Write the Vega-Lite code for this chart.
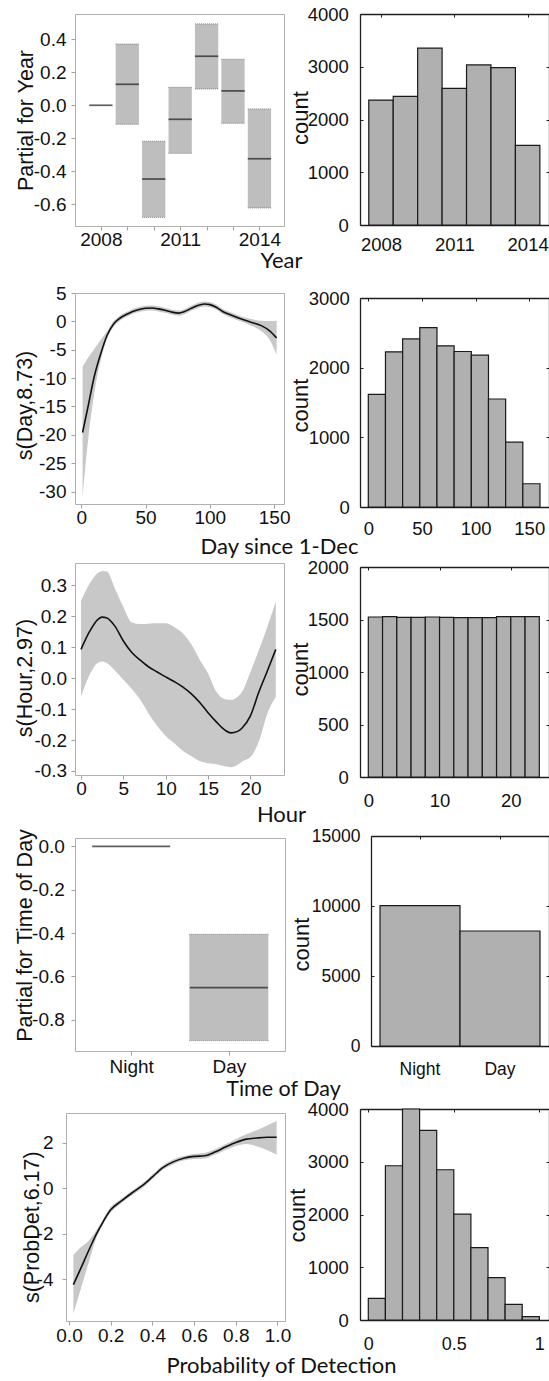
{
"$schema": "https://vega.github.io/schema/vega-lite/v6.json",
"background": "white",
"padding": {"left": 14, "top": 5, "right": 0, "bottom": 0},
"columns": 2,
"spacing": {"row": 63, "column": 75},
"align": "each",
"bounds": "flush",
"datasets": {
"yr": [
{"year": 2008, "est": 0},
{"year": 2009, "est": 0.127, "lo": -0.115, "hi": 0.371},
{"year": 2010, "est": -0.447, "lo": -0.679, "hi": -0.218},
{"year": 2011, "est": -0.085, "lo": -0.291, "hi": 0.109},
{"year": 2012, "est": 0.297, "lo": 0.099, "hi": 0.493},
{"year": 2013, "est": 0.087, "lo": -0.109, "hi": 0.279},
{"year": 2014, "est": -0.324, "lo": -0.622, "hi": -0.022}
],
"yrh": [
{"x0": 2007.5, "x1": 2008.5, "n": 2368},
{"x0": 2008.5, "x1": 2009.5, "n": 2438},
{"x0": 2009.5, "x1": 2010.5, "n": 3352},
{"x0": 2010.5, "x1": 2011.5, "n": 2590},
{"x0": 2011.5, "x1": 2012.5, "n": 3035},
{"x0": 2012.5, "x1": 2013.5, "n": 2984},
{"x0": 2013.5, "x1": 2014.5, "n": 1511}
],
"day": [
{"d": 1, "fit": -19.6, "lo": -30.9, "hi": -8.0},
{"d": 5, "fit": -15.3, "lo": -21.5, "hi": -6.5},
{"d": 10, "fit": -9.8, "lo": -12.8, "hi": -4.9},
{"d": 15, "fit": -5.8, "lo": -7.0, "hi": -3.3},
{"d": 20, "fit": -2.5, "lo": -3.1, "hi": -1.8},
{"d": 25, "fit": -0.5, "lo": -1.0, "hi": 0.0},
{"d": 30, "fit": 0.55, "lo": 0.1, "hi": 1.0},
{"d": 35, "fit": 1.2, "lo": 0.75, "hi": 1.65},
{"d": 40, "fit": 1.75, "lo": 1.3, "hi": 2.2},
{"d": 45, "fit": 2.1, "lo": 1.65, "hi": 2.55},
{"d": 50, "fit": 2.3, "lo": 1.85, "hi": 2.75},
{"d": 55, "fit": 2.35, "lo": 1.9, "hi": 2.8},
{"d": 60, "fit": 2.2, "lo": 1.75, "hi": 2.65},
{"d": 65, "fit": 1.95, "lo": 1.5, "hi": 2.4},
{"d": 70, "fit": 1.65, "lo": 1.2, "hi": 2.1},
{"d": 76, "fit": 1.45, "lo": 1.0, "hi": 1.9},
{"d": 80, "fit": 1.7, "lo": 1.25, "hi": 2.15},
{"d": 86, "fit": 2.35, "lo": 1.9, "hi": 2.8},
{"d": 92, "fit": 2.9, "lo": 2.45, "hi": 3.35},
{"d": 96, "fit": 3.05, "lo": 2.6, "hi": 3.5},
{"d": 100, "fit": 2.95, "lo": 2.5, "hi": 3.4},
{"d": 105, "fit": 2.5, "lo": 2.05, "hi": 2.95},
{"d": 110, "fit": 1.75, "lo": 1.3, "hi": 2.2},
{"d": 116, "fit": 1.15, "lo": 0.7, "hi": 1.6},
{"d": 124, "fit": 0.45, "lo": 0.0, "hi": 0.9},
{"d": 132, "fit": -0.15, "lo": -0.75, "hi": 0.4},
{"d": 140, "fit": -0.75, "lo": -1.7, "hi": 0.1},
{"d": 147, "fit": -1.75, "lo": -3.4, "hi": 0.05},
{"d": 152, "fit": -2.95, "lo": -5.9, "hi": 0.1}
],
"dayh": [
{"x0": 0, "x1": 16, "n": 1617},
{"x0": 16, "x1": 32, "n": 2227},
{"x0": 32, "x1": 48, "n": 2413},
{"x0": 48, "x1": 64, "n": 2575},
{"x0": 64, "x1": 80, "n": 2313},
{"x0": 80, "x1": 96, "n": 2232},
{"x0": 96, "x1": 112, "n": 2180},
{"x0": 112, "x1": 128, "n": 1550},
{"x0": 128, "x1": 144, "n": 930},
{"x0": 144, "x1": 160, "n": 334}
],
"hour": [
{"h": 0, "fit": 0.093, "lo": -0.06, "hi": 0.25},
{"h": 1, "fit": 0.15, "lo": 0.01, "hi": 0.305},
{"h": 2, "fit": 0.19, "lo": 0.05, "hi": 0.34},
{"h": 2.5, "fit": 0.197, "lo": 0.054, "hi": 0.345},
{"h": 3, "fit": 0.195, "lo": 0.05, "hi": 0.345},
{"h": 4, "fit": 0.168, "lo": 0.025, "hi": 0.29},
{"h": 5, "fit": 0.12, "lo": -0.005, "hi": 0.23},
{"h": 6, "fit": 0.083, "lo": -0.035, "hi": 0.18},
{"h": 7, "fit": 0.058, "lo": -0.07, "hi": 0.175},
{"h": 8, "fit": 0.036, "lo": -0.115, "hi": 0.176},
{"h": 9, "fit": 0.02, "lo": -0.155, "hi": 0.177},
{"h": 10, "fit": 0.004, "lo": -0.187, "hi": 0.177},
{"h": 11, "fit": -0.011, "lo": -0.21, "hi": 0.165},
{"h": 12, "fit": -0.028, "lo": -0.235, "hi": 0.145},
{"h": 13, "fit": -0.05, "lo": -0.252, "hi": 0.11},
{"h": 14, "fit": -0.078, "lo": -0.268, "hi": 0.06},
{"h": 15, "fit": -0.112, "lo": -0.275, "hi": 0.015},
{"h": 16, "fit": -0.142, "lo": -0.278, "hi": -0.045},
{"h": 17, "fit": -0.168, "lo": -0.285, "hi": -0.068},
{"h": 17.7, "fit": -0.177, "lo": -0.288, "hi": -0.07},
{"h": 18.5, "fit": -0.172, "lo": -0.28, "hi": -0.06},
{"h": 19, "fit": -0.162, "lo": -0.27, "hi": -0.045},
{"h": 20, "fit": -0.122, "lo": -0.255, "hi": 0.02},
{"h": 21, "fit": -0.045, "lo": -0.205, "hi": 0.09},
{"h": 22, "fit": 0.023, "lo": -0.115, "hi": 0.165},
{"h": 23, "fit": 0.093, "lo": -0.06, "hi": 0.248}
],
"hourh": [
{"x0": 0, "x1": 2, "n": 1524},
{"x0": 2, "x1": 4, "n": 1527},
{"x0": 4, "x1": 6, "n": 1521},
{"x0": 6, "x1": 8, "n": 1521},
{"x0": 8, "x1": 10, "n": 1524},
{"x0": 10, "x1": 12, "n": 1521},
{"x0": 12, "x1": 14, "n": 1517},
{"x0": 14, "x1": 16, "n": 1517},
{"x0": 16, "x1": 18, "n": 1517},
{"x0": 18, "x1": 20, "n": 1527},
{"x0": 20, "x1": 22, "n": 1527},
{"x0": 22, "x1": 24, "n": 1527}
],
"tod": [
{"tod": "Night", "est": 0},
{"tod": "Day", "est": -0.652, "lo": -0.897, "hi": -0.406}
],
"todh": [
{"tod": "Night", "n": 10030},
{"tod": "Day", "n": 8214}
],
"pd": [
{"p": 0.021, "fit": -4.24, "lo": -5.51, "hi": -2.94},
{"p": 0.05, "fit": -3.66, "lo": -4.63, "hi": -2.65},
{"p": 0.1, "fit": -2.63, "lo": -3.1, "hi": -2.25},
{"p": 0.133, "fit": -1.99, "lo": -2.15, "hi": -1.82},
{"p": 0.15, "fit": -1.7, "lo": -1.83, "hi": -1.57},
{"p": 0.2, "fit": -0.95, "lo": -1.07, "hi": -0.83},
{"p": 0.25, "fit": -0.57, "lo": -0.67, "hi": -0.47},
{"p": 0.3, "fit": -0.22, "lo": -0.32, "hi": -0.12},
{"p": 0.35, "fit": 0.1, "lo": 0.0, "hi": 0.2},
{"p": 0.4, "fit": 0.5, "lo": 0.4, "hi": 0.6},
{"p": 0.45, "fit": 0.91, "lo": 0.81, "hi": 1.01},
{"p": 0.5, "fit": 1.16, "lo": 1.06, "hi": 1.26},
{"p": 0.55, "fit": 1.32, "lo": 1.22, "hi": 1.42},
{"p": 0.6, "fit": 1.4, "lo": 1.29, "hi": 1.51},
{"p": 0.65, "fit": 1.43, "lo": 1.31, "hi": 1.55},
{"p": 0.7, "fit": 1.59, "lo": 1.47, "hi": 1.71},
{"p": 0.75, "fit": 1.81, "lo": 1.68, "hi": 1.94},
{"p": 0.8, "fit": 2.01, "lo": 1.86, "hi": 2.16},
{"p": 0.85, "fit": 2.16, "lo": 1.95, "hi": 2.37},
{"p": 0.9, "fit": 2.21, "lo": 1.85, "hi": 2.55},
{"p": 0.95, "fit": 2.24, "lo": 1.68, "hi": 2.76},
{"p": 0.996, "fit": 2.24, "lo": 1.47, "hi": 2.96}
],
"pdh": [
{"x0": 0.0, "x1": 0.1, "n": 411},
{"x0": 0.1, "x1": 0.2, "n": 2924},
{"x0": 0.2, "x1": 0.3, "n": 4000},
{"x0": 0.3, "x1": 0.4, "n": 3595},
{"x0": 0.4, "x1": 0.5, "n": 2848},
{"x0": 0.5, "x1": 0.6, "n": 2006},
{"x0": 0.6, "x1": 0.7, "n": 1373},
{"x0": 0.7, "x1": 0.8, "n": 804},
{"x0": 0.8, "x1": 0.9, "n": 297},
{"x0": 0.9, "x1": 1.0, "n": 63}
]
},
"concat": [
{
"width": 218, "height": 216,
"data": {"name": "yr"},
"layer": [
{"mark": {"type": "bar", "width": 23.3, "fill": "#bebebe"},
 "encoding": {
  "x": {"field": "year", "type": "quantitative", "scale": {"domain": [2007.21, 2014.74], "range": [9, 218], "nice": false, "zero": false},
   "axis": {"orient": "bottom", "values": [2008, 2009, 2010, 2011, 2012, 2013, 2014], "labelExpr": "(datum.value-2008)%3==0 ? format(datum.value,'d') : ''", "domainColor": "#b0b0b0", "tickColor": "#a0a0a0", "tickSize": 4, "labelFontSize": 19, "labelPadding": 0, "title": "Year", "titleFont": "Lato", "titleFontSize": 22, "titleX": 215, "titleY": 41, "offset": -4}},
  "y": {"field": "lo", "type": "quantitative", "scale": {"domain": [-0.7315, 0.553], "range": [212, 0], "nice": false, "zero": false},
   "axis": {"orient": "left", "values": [-0.6, -0.4, -0.2, 0, 0.2, 0.4], "format": ".1f", "labelExpr": "replace(datum.label,'−','-')", "domainColor": "#b0b0b0", "tickColor": "#a0a0a0", "tickSize": 4, "labelFontSize": 19, "labelPadding": 5, "title": "Partial for Year", "titleFontSize": 21.5, "titleX": -42.3, "titleY": 106, "offset": -9}},
  "y2": {"field": "hi"}}},
{"mark": {"type": "point", "shape": "M-1,0H1", "size": 543, "stroke": "#808080", "strokeWidth": 1, "strokeDash": [1, 1], "opacity": 1},
 "encoding": {"x": {"field": "year", "type": "quantitative", "axis": null}, "y": {"field": "lo", "type": "quantitative", "axis": null}}},
{"mark": {"type": "point", "shape": "M-1,0H1", "size": 543, "stroke": "#808080", "strokeWidth": 1, "strokeDash": [1, 1], "opacity": 1},
 "encoding": {"x": {"field": "year", "type": "quantitative", "axis": null}, "y": {"field": "hi", "type": "quantitative", "axis": null}}},
{"mark": {"type": "tick", "orient": "horizontal", "size": 23.3, "thickness": 1.7, "color": "#1a1a1a"},
 "encoding": {
  "x": {"field": "year", "type": "quantitative", "axis": {"orient": "top", "domainColor": "#b0b0b0", "ticks": false, "labels": false, "title": null}},
  "y": {"field": "est", "type": "quantitative", "axis": {"orient": "right", "domainColor": "#b0b0b0", "ticks": false, "labels": false, "title": null}}}}
],
"resolve": {"axis": {"x": "independent", "y": "independent"}}
},
{
"width": 189, "height": 216,
"data": {"name": "yrh"},
"layer": [
{"mark": {"type": "rect", "fill": "#b0b0b0", "stroke": "#1a1a1a", "strokeWidth": 1.2},
 "encoding": {
  "x": {"field": "x0", "type": "quantitative", "scale": {"domain": [2007.141, 2014.874], "range": [0, 189], "nice": false, "zero": false},
   "axis": {"orient": "bottom", "values": [2008, 2011, 2014], "format": "d", "domainColor": "#1f1f1f", "domainWidth": 1.3, "tickColor": "#1f1f1f", "tickSize": -3, "labelFontSize": 18.5, "labelPadding": 13.3, "title": null, "offset": -5}},
  "x2": {"field": "x1"},
  "y": {"field": "n", "type": "quantitative", "scale": {"domain": [0, 4000], "range": [211, 0], "nice": false},
   "axis": {"orient": "left", "values": [0, 1000, 2000, 3000, 4000], "format": "d", "domainColor": "#1f1f1f", "domainWidth": 1.3, "tickColor": "#1f1f1f", "tickSize": -3, "labelFontSize": 18.5, "labelPadding": 14.7, "title": "count", "titleFontSize": 22, "titleX": -53, "titleY": 103.5}},
  "y2": {"datum": 0}}},
{"mark": {"type": "point", "opacity": 0},
 "encoding": {
  "x": {"field": "x0", "type": "quantitative", "axis": {"orient": "top", "values": [2008, 2011, 2014], "domainColor": "#1f1f1f", "domainWidth": 1.3, "tickColor": "#1f1f1f", "tickSize": -3, "labels": false, "title": null, "offset": 0}},
  "y": {"field": "n", "type": "quantitative", "axis": {"orient": "right", "values": [0, 1000, 2000, 3000, 4000], "domainColor": "#1f1f1f", "domainWidth": 1.3, "tickColor": "#1f1f1f", "tickSize": -3, "labels": false, "title": null}}}}
],
"resolve": {"axis": {"x": "independent", "y": "independent"}}
},
{
"width": 218, "height": 207,
"data": {"name": "day"},
"layer": [
{"mark": {"type": "area", "color": "#c8c8c8", "interpolate": "monotone"},
 "encoding": {
  "x": {"field": "d", "type": "quantitative", "scale": {"domain": [-4.9, 157.7], "range": [9, 218], "nice": false, "zero": false},
   "axis": {"orient": "bottom", "values": [0, 50, 100, 150], "format": "d", "domainColor": "#b0b0b0", "tickColor": "#a0a0a0", "tickSize": 4, "labelFontSize": 19, "labelPadding": 0, "title": "Day since 1-Dec", "titleFont": "Lato", "titleFontSize": 22, "titleX": 213, "titleY": 49, "offset": 4}},
  "y": {"field": "lo", "type": "quantitative", "scale": {"domain": [-32.2, 5.0], "range": [211, 0], "nice": false, "zero": false},
   "axis": {"orient": "left", "values": [-30, -25, -20, -15, -10, -5, 0, 5], "format": "d", "labelExpr": "replace(datum.label,'−','-')", "domainColor": "#b0b0b0", "tickColor": "#a0a0a0", "tickSize": 4, "labelFontSize": 19, "labelPadding": 5, "title": "s(Day,8.73)", "titleFontSize": 21.5, "titleX": -43.5, "titleY": 112, "offset": -9}},
  "y2": {"field": "hi"}}},
{"mark": {"type": "line", "color": "#111111", "strokeWidth": 1.6, "interpolate": "monotone"},
 "encoding": {
  "x": {"field": "d", "type": "quantitative", "axis": {"orient": "top", "domainColor": "#b0b0b0", "ticks": false, "labels": false, "title": null}},
  "y": {"field": "fit", "type": "quantitative", "axis": {"orient": "right", "domainColor": "#b0b0b0", "ticks": false, "labels": false, "title": null}}}}
],
"resolve": {"axis": {"x": "independent", "y": "independent"}}
},
{
"width": 189, "height": 207,
"data": {"name": "dayh"},
"layer": [
{"mark": {"type": "rect", "fill": "#b0b0b0", "stroke": "#1a1a1a", "strokeWidth": 1.2},
 "encoding": {
  "x": {"field": "x0", "type": "quantitative", "scale": {"domain": [-7.73, 168.4], "range": [0, 189], "nice": false, "zero": false},
   "axis": {"orient": "bottom", "values": [0, 50, 100, 150], "format": "d", "domainColor": "#1f1f1f", "domainWidth": 1.3, "tickColor": "#1f1f1f", "tickSize": -3, "labelFontSize": 18.5, "labelPadding": 15, "title": null, "offset": 7}},
  "x2": {"field": "x1"},
  "y": {"field": "n", "type": "quantitative", "scale": {"domain": [0, 3000], "range": [214, 5], "nice": false},
   "axis": {"orient": "left", "values": [0, 1000, 2000, 3000], "format": "d", "domainColor": "#1f1f1f", "domainWidth": 1.3, "tickColor": "#1f1f1f", "tickSize": -3, "labelFontSize": 18.5, "labelPadding": 13.7, "title": "count", "titleFontSize": 22, "titleX": -53, "titleY": 112}},
  "y2": {"datum": 0}}},
{"mark": {"type": "point", "opacity": 0},
 "encoding": {
  "x": {"field": "x0", "type": "quantitative", "axis": {"orient": "top", "values": [0, 50, 100, 150], "domainColor": "#1f1f1f", "domainWidth": 1.3, "tickColor": "#1f1f1f", "tickSize": -3, "labels": false, "title": null, "offset": -5}},
  "y": {"field": "n", "type": "quantitative", "axis": {"orient": "right", "values": [0, 1000, 2000, 3000], "domainColor": "#1f1f1f", "domainWidth": 1.3, "tickColor": "#1f1f1f", "tickSize": -3, "labels": false, "title": null}}}}
],
"resolve": {"axis": {"x": "independent", "y": "independent"}}
},
{
"width": 218, "height": 212,
"data": {"name": "hour"},
"layer": [
{"mark": {"type": "area", "color": "#c8c8c8", "interpolate": "monotone"},
 "encoding": {
  "x": {"field": "h", "type": "quantitative", "scale": {"domain": [-0.71, 23.97], "range": [9, 218], "nice": false, "zero": false},
   "axis": {"orient": "bottom", "values": [0, 5, 10, 15, 20], "format": "d", "domainColor": "#b0b0b0", "tickColor": "#a0a0a0", "tickSize": 4, "labelFontSize": 19, "labelPadding": 0, "title": "Hour", "titleFont": "Lato", "titleFontSize": 22, "titleX": 215, "titleY": 46, "offset": 0}},
  "y": {"field": "lo", "type": "quantitative", "scale": {"domain": [-0.313, 0.372], "range": [212, 0], "nice": false, "zero": false},
   "axis": {"orient": "left", "values": [-0.3, -0.2, -0.1, 0, 0.1, 0.2, 0.3], "format": ".1f", "labelExpr": "replace(datum.label,'−','-')", "domainColor": "#b0b0b0", "tickColor": "#a0a0a0", "tickSize": 4, "labelFontSize": 19, "labelPadding": 4.3, "title": "s(Hour,2.97)", "titleFontSize": 21.5, "titleX": -43.5, "titleY": 114.5, "offset": -9}},
  "y2": {"field": "hi"}}},
{"mark": {"type": "line", "color": "#111111", "strokeWidth": 1.6, "interpolate": "monotone"},
 "encoding": {
  "x": {"field": "h", "type": "quantitative", "axis": {"orient": "top", "domainColor": "#b0b0b0", "ticks": false, "labels": false, "title": null}},
  "y": {"field": "fit", "type": "quantitative", "axis": {"orient": "right", "domainColor": "#b0b0b0", "ticks": false, "labels": false, "title": null}}}}
],
"resolve": {"axis": {"x": "independent", "y": "independent"}}
},
{
"width": 189, "height": 212,
"data": {"name": "hourh"},
"layer": [
{"mark": {"type": "rect", "fill": "#b0b0b0", "stroke": "#1a1a1a", "strokeWidth": 1.2},
 "encoding": {
  "x": {"field": "x0", "type": "quantitative", "scale": {"domain": [-1.165, 25.36], "range": [0, 189], "nice": false, "zero": false},
   "axis": {"orient": "bottom", "values": [0, 10, 20], "format": "d", "domainColor": "#1f1f1f", "domainWidth": 1.3, "tickColor": "#1f1f1f", "tickSize": -3, "labelFontSize": 18.5, "labelPadding": 17.6, "title": null, "offset": 2}},
  "x2": {"field": "x1"},
  "y": {"field": "n", "type": "quantitative", "scale": {"domain": [0, 2000], "range": [214, 4], "nice": false},
   "axis": {"orient": "left", "values": [0, 500, 1000, 1500, 2000], "format": "d", "domainColor": "#1f1f1f", "domainWidth": 1.3, "tickColor": "#1f1f1f", "tickSize": -3, "labelFontSize": 18.5, "labelPadding": 14.7, "title": "count", "titleFontSize": 22, "titleX": -53, "titleY": 106}},
  "y2": {"datum": 0}}},
{"mark": {"type": "point", "opacity": 0},
 "encoding": {
  "x": {"field": "x0", "type": "quantitative", "axis": {"orient": "top", "values": [0, 10, 20], "domainColor": "#1f1f1f", "domainWidth": 1.3, "tickColor": "#1f1f1f", "tickSize": -3, "labels": false, "title": null, "offset": -4}},
  "y": {"field": "n", "type": "quantitative", "axis": {"orient": "right", "values": [0, 500, 1000, 1500, 2000], "domainColor": "#1f1f1f", "domainWidth": 1.3, "tickColor": "#1f1f1f", "tickSize": -3, "labels": false, "title": null}}}}
],
"resolve": {"axis": {"x": "independent", "y": "independent"}}
},
{
"width": 219, "height": 212,
"data": {"name": "tod"},
"layer": [
{"mark": {"type": "bar", "width": 79, "fill": "#bebebe"},
 "encoding": {
  "x": {"field": "tod", "type": "nominal", "sort": ["Night", "Day"], "scale": {"type": "point", "padding": 0.575, "range": [9, 219]},
   "axis": {"orient": "bottom", "labelAngle": 0, "domainColor": "#b0b0b0", "tickColor": "#a0a0a0", "tickSize": 4, "labelFontSize": 19, "labelPadding": 2.5, "title": "Time of Day", "titleFont": "Lato", "titleFontSize": 21.5, "titleX": 217, "titleY": 44.5, "offset": 1}},
  "y": {"field": "lo", "type": "quantitative", "scale": {"domain": [-0.945, 0.039], "range": [213, 0], "nice": false, "zero": false},
   "axis": {"orient": "left", "values": [-0.8, -0.6, -0.4, -0.2, 0], "format": ".1f", "labelExpr": "replace(datum.label,'−','-')", "domainColor": "#b0b0b0", "tickColor": "#a0a0a0", "tickSize": 4, "labelFontSize": 19, "labelPadding": 6.7, "title": "Partial for Time of Day", "titleFontSize": 21.5, "titleX": -43.3, "titleY": 97, "offset": -9}},
  "y2": {"field": "hi"}}},
{"mark": {"type": "point", "shape": "M-1,0H1", "size": 6241, "stroke": "#808080", "strokeWidth": 1, "strokeDash": [1, 1], "opacity": 1},
 "encoding": {"x": {"field": "tod", "type": "nominal", "sort": ["Night", "Day"], "axis": null}, "y": {"field": "lo", "type": "quantitative", "axis": null}}},
{"mark": {"type": "point", "shape": "M-1,0H1", "size": 6241, "stroke": "#808080", "strokeWidth": 1, "strokeDash": [1, 1], "opacity": 1},
 "encoding": {"x": {"field": "tod", "type": "nominal", "sort": ["Night", "Day"], "axis": null}, "y": {"field": "hi", "type": "quantitative", "axis": null}}},
{"mark": {"type": "tick", "orient": "horizontal", "size": 78, "thickness": 1.7, "color": "#1a1a1a"},
 "encoding": {
  "x": {"field": "tod", "type": "nominal", "sort": ["Night", "Day"], "axis": {"orient": "top", "domainColor": "#b0b0b0", "ticks": false, "labels": false, "title": null}},
  "y": {"field": "est", "type": "quantitative", "axis": {"orient": "right", "domainColor": "#b0b0b0", "ticks": false, "labels": false, "title": null}}}}
],
"resolve": {"axis": {"x": "independent", "y": "independent"}}
},
{
"width": 189, "height": 212,
"data": {"name": "todh"},
"layer": [
{"mark": {"type": "bar", "fill": "#b0b0b0", "stroke": "#1a1a1a", "strokeWidth": 1.2},
 "encoding": {
  "x": {"field": "tod", "type": "nominal", "sort": ["Night", "Day"], "scale": {"type": "band", "paddingInner": 0, "paddingOuter": 0.1125, "range": [11, 189]},
   "axis": {"orient": "bottom", "labelAngle": 0, "domainColor": "#1f1f1f", "domainWidth": 1.3, "tickColor": "#1f1f1f", "tickSize": -3, "labelFontSize": 17.5, "labelPadding": 17.3, "title": null, "offset": -4}},
  "y": {"field": "n", "type": "quantitative", "scale": {"domain": [0, 15000], "range": [208, -2], "nice": false},
   "axis": {"orient": "left", "values": [0, 5000, 10000, 15000], "format": "d", "domainColor": "#1f1f1f", "domainWidth": 1.3, "tickColor": "#1f1f1f", "tickSize": -3, "labelFontSize": 17.5, "labelPadding": 14, "title": "count", "titleFontSize": 22, "titleX": -63, "titleY": 106, "offset": -11}}}},
{"mark": {"type": "point", "opacity": 0},
 "encoding": {
  "x": {"field": "tod", "type": "nominal", "sort": ["Night", "Day"], "axis": {"orient": "top", "domainColor": "#1f1f1f", "domainWidth": 1.3, "tickColor": "#1f1f1f", "tickSize": -3, "labels": false, "title": null, "offset": 2}},
  "y": {"field": "n", "type": "quantitative", "axis": {"orient": "right", "values": [0, 5000, 10000, 15000], "domainColor": "#1f1f1f", "domainWidth": 1.3, "tickColor": "#1f1f1f", "tickSize": -3, "labels": false, "title": null}}}}
],
"resolve": {"axis": {"x": "independent", "y": "independent"}}
},
{
"width": 219, "height": 208,
"data": {"name": "pd"},
"layer": [
{"mark": {"type": "area", "color": "#c8c8c8", "interpolate": "monotone"},
 "encoding": {
  "x": {"field": "p", "type": "quantitative", "scale": {"domain": [-0.0144, 1.036], "range": [0, 219], "nice": false, "zero": false},
   "axis": {"orient": "bottom", "values": [0, 0.2, 0.4, 0.6, 0.8, 1], "format": ".1f", "domainColor": "#b0b0b0", "tickColor": "#a0a0a0", "tickSize": 4, "labelFontSize": 19, "labelPadding": 1, "title": "Probability of Detection", "titleFont": "Lato", "titleFontSize": 22, "titleX": 215, "titleY": 51.7, "offset": 0}},
  "y": {"field": "lo", "type": "quantitative", "scale": {"domain": [-5.84, 3.31], "range": [208, 0], "nice": false, "zero": false},
   "axis": {"orient": "left", "values": [-4, -2, 0, 2], "format": "d", "labelExpr": "replace(datum.label,'−','-')", "domainColor": "#b0b0b0", "tickColor": "#a0a0a0", "tickSize": 4, "labelFontSize": 19, "labelPadding": 9, "title": "s(ProbDet,6.17)", "titleFontSize": 21.5, "titleX": -28, "titleY": 113.7}},
  "y2": {"field": "hi"}}},
{"mark": {"type": "line", "color": "#111111", "strokeWidth": 1.6, "interpolate": "monotone"},
 "encoding": {
  "x": {"field": "p", "type": "quantitative", "axis": {"orient": "top", "domainColor": "#b0b0b0", "ticks": false, "labels": false, "title": null}},
  "y": {"field": "fit", "type": "quantitative", "axis": {"orient": "right", "domainColor": "#b0b0b0", "ticks": false, "labels": false, "title": null}}}}
],
"resolve": {"axis": {"x": "independent", "y": "independent"}}
},
{
"width": 189, "height": 208,
"data": {"name": "pdh"},
"layer": [
{"mark": {"type": "rect", "fill": "#b0b0b0", "stroke": "#1a1a1a", "strokeWidth": 1.2},
 "encoding": {
  "x": {"field": "x0", "type": "quantitative", "scale": {"domain": [-0.0485, 1.0567], "range": [0, 189], "nice": false, "zero": false},
   "axis": {"orient": "bottom", "values": [0, 0.5, 1], "format": "~g", "domainColor": "#1f1f1f", "domainWidth": 1.3, "tickColor": "#1f1f1f", "tickSize": -3, "labelFontSize": 18, "labelPadding": 18, "title": null, "offset": -1}},
  "x2": {"field": "x1"},
  "y": {"field": "n", "type": "quantitative", "scale": {"domain": [0, 4000], "range": [207, -4], "nice": false},
   "axis": {"orient": "left", "values": [0, 1000, 2000, 3000, 4000], "format": "d", "domainColor": "#1f1f1f", "domainWidth": 1.3, "tickColor": "#1f1f1f", "tickSize": -3, "labelFontSize": 18.5, "labelPadding": 14.7, "title": "count", "titleFontSize": 22, "titleX": -56, "titleY": 102}},
  "y2": {"datum": 0}}},
{"mark": {"type": "point", "opacity": 0},
 "encoding": {
  "x": {"field": "x0", "type": "quantitative", "axis": {"orient": "top", "values": [0, 0.5, 1], "domainColor": "#1f1f1f", "domainWidth": 1.3, "tickColor": "#1f1f1f", "tickSize": -3, "labels": false, "title": null, "offset": 4}},
  "y": {"field": "n", "type": "quantitative", "axis": {"orient": "right", "values": [0, 1000, 2000, 3000, 4000], "domainColor": "#1f1f1f", "domainWidth": 1.3, "tickColor": "#1f1f1f", "tickSize": -3, "labels": false, "title": null}}}}
],
"resolve": {"axis": {"x": "independent", "y": "independent"}}
}
],
"config": {
"view": {"stroke": null},
"axis": {"labelFont": "Liberation Sans", "titleFont": "Liberation Sans", "labelColor": "#111111", "titleColor": "#111111", "titleFontWeight": "normal", "grid": false, "labelFlush": false, "labelOverlap": false, "titleBaseline": "alphabetic", "titleAlign": "center", "domainWidth": 1, "tickWidth": 1}
}
}
